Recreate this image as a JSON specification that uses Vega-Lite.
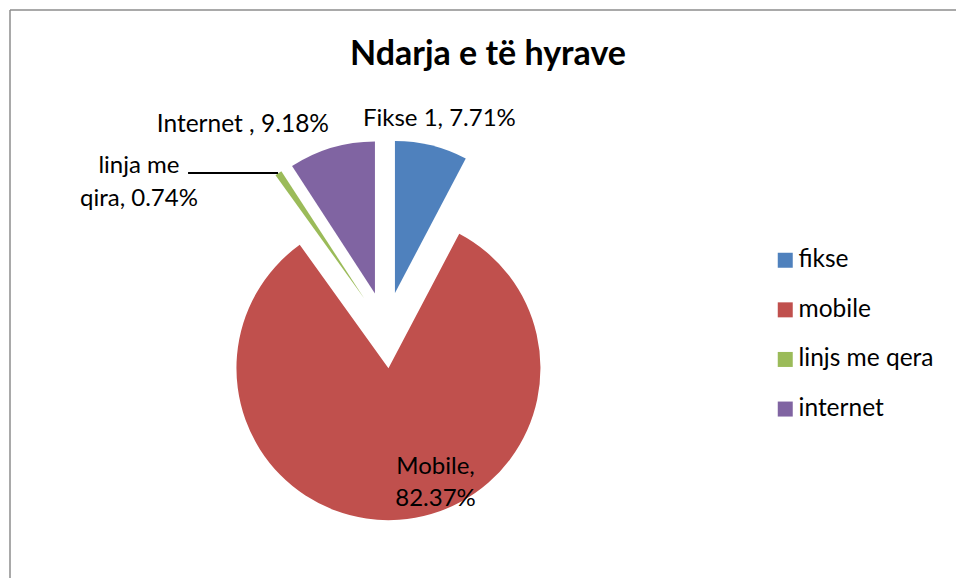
{
  "$schema": "https://vega.github.io/schema/vega-lite/v6.json",
  "width": 946,
  "height": 568,
  "autosize": {"type": "none"},
  "padding": {"left": 10, "top": 10, "right": 0, "bottom": 0},
  "background": "white",
  "config": {"view": {"stroke": null}, "font": "Lato"},
  "title": {"text": "Ndarja e të hyrave", "fontSize": 34, "fontWeight": "bold", "font": "Lato", "color": "black", "anchor": "middle", "dx": 5, "offset": -90, "baseline": "alphabetic"},
  "data": {"values": [
    {"idx": 1, "cat": "fikse", "value": 7.71, "label": "Fikse 1, 7.71%"},
    {"idx": 2, "cat": "mobile", "value": 82.37, "label": "Mobile,\n82.37%"},
    {"idx": 3, "cat": "linjs me qera", "value": 0.74, "label": "linja me\nqira, 0.74%"},
    {"idx": 4, "cat": "internet", "value": 9.18, "label": "Internet , 9.18%"}
  ]},
  "transform": [
    {"window": [{"op": "sum", "field": "value", "as": "end"}], "sort": [{"field": "idx"}], "frame": [null, 0]},
    {"calculate": "datum.end - datum.value", "as": "start"},
    {"calculate": "PI * (datum.start + datum.end) / 100", "as": "mid"},
    {"calculate": "0.2513 * sin(datum.mid)", "as": "ex"},
    {"calculate": "0.2513 * cos(datum.mid)", "as": "ey"}
  ],
  "layer": [
    {
      "mark": {"type": "arc", "outerRadius": 152},
      "encoding": {
        "theta": {"field": "start", "type": "quantitative", "scale": {"domain": [0, 100], "range": [0, 6.283185307179586]}},
        "theta2": {"field": "end"},
        "x": {"field": "ex", "type": "quantitative", "scale": {"domain": [-2.4724, 3.7513], "nice": false, "zero": false}, "axis": null},
        "y": {"field": "ey", "type": "quantitative", "scale": {"domain": [-1.6309, 2.1059], "nice": false, "zero": false}, "axis": null},
        "color": {
          "field": "cat", "type": "nominal",
          "scale": {"domain": ["fikse", "mobile", "linjs me qera", "internet"], "range": ["#4F81BD", "#C0504D", "#9BBB59", "#8064A2"]},
          "legend": {"orient": "none", "legendX": 763, "legendY": 238, "title": null, "symbolType": "square", "symbolSize": 225, "symbolStrokeWidth": 0, "labelFontSize": 24.5, "labelFont": "Lato", "labelColor": "black", "rowPadding": 24.6, "labelOffset": 1, "padding": 0}
        }
      }
    },
    {
      "transform": [{"filter": "datum.idx == 1"}],
      "mark": {"type": "rule", "color": "#8c8c8c", "strokeWidth": 1.5},
      "encoding": {"y": {"datum": 2.1059, "type": "quantitative", "scale": {"domain": [-1.6309, 2.1059], "nice": false, "zero": false}, "axis": null}}
    },
    {
      "transform": [{"filter": "datum.idx == 1"}],
      "mark": {"type": "rule", "color": "#8c8c8c", "strokeWidth": 1.5},
      "encoding": {"x": {"datum": -2.4724, "type": "quantitative", "scale": {"domain": [-2.4724, 3.7513], "nice": false, "zero": false}, "axis": null}}
    },
    {
      "transform": [{"filter": "datum.idx == 3"}],
      "mark": {"type": "rule", "color": "black", "strokeWidth": 2},
      "encoding": {
        "x": {"datum": -1.301, "type": "quantitative", "scale": {"domain": [-2.4724, 3.7513], "nice": false, "zero": false}, "axis": null},
        "x2": {"datum": -0.709},
        "y": {"datum": 1.0336, "type": "quantitative", "scale": {"domain": [-1.6309, 2.1059], "nice": false, "zero": false}, "axis": null}
      }
    },
    {
      "transform": [{"filter": "datum.idx == 1"}],
      "mark": {"type": "text", "align": "left", "baseline": "alphabetic", "fontSize": 24, "font": "Lato", "color": "black"},
      "encoding": {
        "x": {"datum": -0.150, "type": "quantitative", "scale": {"domain": [-2.4724, 3.7513], "nice": false, "zero": false}, "axis": null},
        "y": {"datum": 1.3428, "type": "quantitative", "scale": {"domain": [-1.6309, 2.1059], "nice": false, "zero": false}, "axis": null},
        "text": {"field": "label"}
      }
    },
    {
      "transform": [{"filter": "datum.idx == 4"}],
      "mark": {"type": "text", "align": "right", "baseline": "alphabetic", "fontSize": 24.5, "font": "Lato", "color": "black"},
      "encoding": {
        "x": {"datum": -0.3737, "type": "quantitative", "scale": {"domain": [-2.4724, 3.7513], "nice": false, "zero": false}, "axis": null},
        "y": {"datum": 1.305, "type": "quantitative", "scale": {"domain": [-1.6309, 2.1059], "nice": false, "zero": false}, "axis": null},
        "text": {"field": "label"}
      }
    },
    {
      "transform": [{"filter": "datum.idx == 3"}],
      "mark": {"type": "text", "align": "center", "baseline": "alphabetic", "fontSize": 24, "font": "Lato", "color": "black", "lineBreak": "\n", "lineHeight": 33},
      "encoding": {
        "x": {"datum": -1.624, "type": "quantitative", "scale": {"domain": [-2.4724, 3.7513], "nice": false, "zero": false}, "axis": null},
        "y": {"datum": 1.0336, "type": "quantitative", "scale": {"domain": [-1.6309, 2.1059], "nice": false, "zero": false}, "axis": null},
        "text": {"field": "label"}
      }
    },
    {
      "transform": [{"filter": "datum.idx == 2"}],
      "mark": {"type": "text", "align": "center", "baseline": "alphabetic", "fontSize": 24, "font": "Lato", "color": "black", "lineBreak": "\n", "lineHeight": 32},
      "encoding": {
        "x": {"datum": 0.327, "type": "quantitative", "scale": {"domain": [-2.4724, 3.7513], "nice": false, "zero": false}, "axis": null},
        "y": {"datum": -0.9467, "type": "quantitative", "scale": {"domain": [-1.6309, 2.1059], "nice": false, "zero": false}, "axis": null},
        "text": {"field": "label"}
      }
    }
  ]
}
